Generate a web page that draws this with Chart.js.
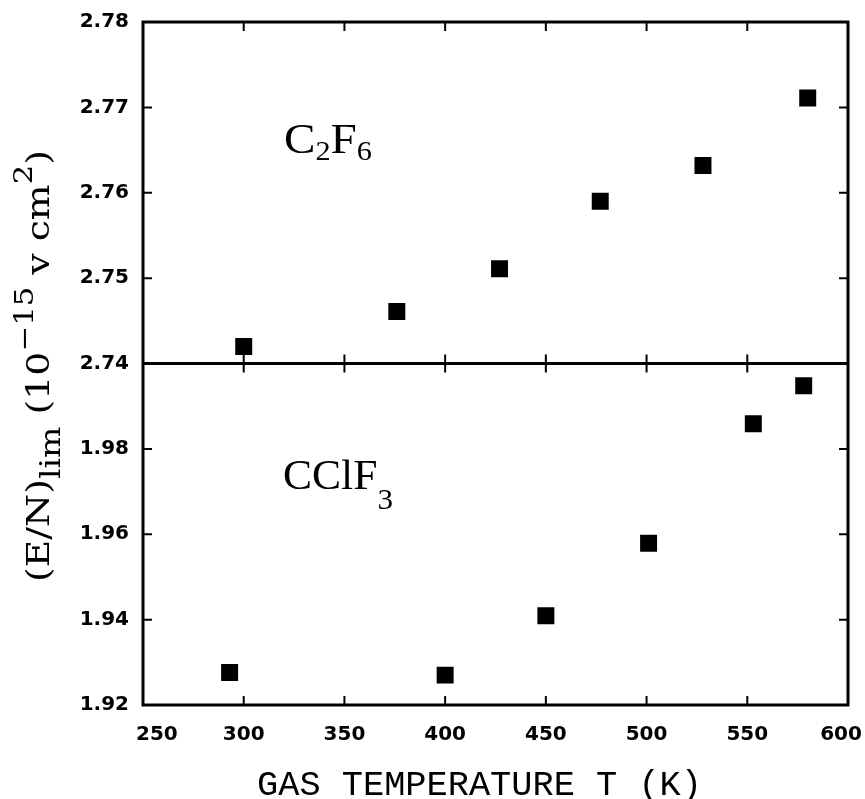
<!DOCTYPE html>
<html>
<head>
<meta charset="utf-8">
<script src="https://cdn.jsdelivr.net/npm/chart.js@4.4.0/dist/chart.umd.min.js"></script>
<style>
  html, body { margin: 0; padding: 0; background: #fff; }
</style>
</head>
<body>
<canvas id="chart" width="865" height="799"></canvas>
<script>
// gas temperature (K) and limiting field (E/N)lim, 10^-15 V cm^2
const c2f6Temp = [300, 376, 427, 477, 528, 580];
const c2f6Field = [2.742, 2.7461, 2.7511, 2.7590, 2.7632, 2.7711];
const cclf3Temp = [293, 400, 450, 501, 553, 578];
const cclf3Field = [1.9276, 1.9270, 1.9409, 1.9579, 1.9859, 1.9948];

const xTicks = [250, 300, 350, 400, 450, 500, 550, 600];
const topTicks = [2.74, 2.75, 2.76, 2.77, 2.78];
const botTicks = [1.92, 1.94, 1.96, 1.98, 2.00];

const tickFont = { family: 'DejaVu Sans', size: 20, weight: 'bold' };

// draws text pieces (sub/superscripts) along +x from the origin
function piecesWidth(ctx, pieces, family) {
  let w = 0;
  pieces.forEach(p => { ctx.font = p.size + 'px "' + family + '"'; w += ctx.measureText(p.t).width; });
  return w;
}
function drawPieces(ctx, pieces, family) {
  let x = 0;
  pieces.forEach(p => {
    ctx.font = p.size + 'px "' + family + '"';
    ctx.fillText(p.t, x, p.dy || 0);
    x += ctx.measureText(p.t).width;
  });
}
// put pieces at (x, y) baseline, squeezed or stretched to a given length
function fitText(ctx, pieces, family, x, y, len, rotate) {
  const w = piecesWidth(ctx, pieces, family);
  ctx.save();
  ctx.translate(x, y);
  if (rotate) ctx.rotate(-Math.PI / 2);
  ctx.scale(len / w, 1);
  drawPieces(ctx, pieces, family);
  ctx.restore();
}

const framePlugin = {
  id: 'frame',
  afterDraw(chart) {
    const ctx = chart.ctx;
    const { x, yTop, yBot } = chart.scales;
    const L = x.left, R = x.right;
    const T = yTop.top, M = yTop.bottom, B = yBot.bottom;
    const tl = 9;

    ctx.save();
    ctx.strokeStyle = '#000';
    ctx.fillStyle = '#000';
    ctx.lineWidth = 3;
    ctx.strokeRect(L, T, R - L, B - T);
    ctx.beginPath();
    ctx.moveTo(L, M); ctx.lineTo(R, M);
    ctx.stroke();

    // inward tick marks
    ctx.lineWidth = 2;
    ctx.beginPath();
    xTicks.slice(1, -1).forEach(v => {
      const px = x.getPixelForValue(v);
      ctx.moveTo(px, T); ctx.lineTo(px, T + tl);
      ctx.moveTo(px, M - tl); ctx.lineTo(px, M + tl);
      ctx.moveTo(px, B); ctx.lineTo(px, B - tl);
    });
    topTicks.slice(1, -1).forEach(v => {
      const py = yTop.getPixelForValue(v);
      ctx.moveTo(L, py); ctx.lineTo(L + tl, py);
      ctx.moveTo(R, py); ctx.lineTo(R - tl, py);
    });
    botTicks.slice(1, -1).forEach(v => {
      const py = yBot.getPixelForValue(v);
      ctx.moveTo(L, py); ctx.lineTo(L + tl, py);
      ctx.moveTo(R, py); ctx.lineTo(R - tl, py);
    });
    ctx.stroke();

    ctx.textBaseline = 'alphabetic';
    ctx.textAlign = 'left';

    // gas names
    fitText(ctx, [
      { t: 'C', size: 42 }, { t: '2', size: 27, dy: 7 },
      { t: 'F', size: 42 }, { t: '6', size: 27, dy: 7 }
    ], 'Liberation Serif', 284, 153, 88, false);
    fitText(ctx, [
      { t: 'CClF', size: 42 }, { t: '3', size: 30, dy: 20 }
    ], 'Liberation Serif', 283, 489, 110, false);

    // y axis title
    fitText(ctx, [
      { t: '(E/N)', size: 32 }, { t: 'lim', size: 28, dy: 11 },
      { t: ' (10', size: 32 }, { t: '\u221215', size: 26, dy: -16 },
      { t: ' v cm', size: 32 }, { t: '2', size: 26, dy: -17 },
      { t: ')', size: 32 }
    ], 'DejaVu Serif', 49, 582, 432, true);

    // x axis title
    fitText(ctx, [{ t: 'GAS TEMPERATURE T (K)', size: 35 }],
      'Liberation Mono', 257, 795, 445, false);
    ctx.restore();
  }
};

const ctx = document.getElementById('chart').getContext('2d');
new Chart(ctx, {
  type: 'scatter',
  data: {
    datasets: [
      {
        label: 'C2F6',
        data: c2f6Temp.map((t, i) => ({ x: t, y: c2f6Field[i] })),
        yAxisID: 'yTop'
      },
      {
        label: 'CClF3',
        data: cclf3Temp.map((t, i) => ({ x: t, y: cclf3Field[i] })),
        yAxisID: 'yBot'
      }
    ]
  },
  options: {
    responsive: false,
    animation: false,
    layout: { padding: { top: 22, right: 17, left: 0, bottom: 0 } },
    elements: {
      point: { pointStyle: 'rect', radius: 12, backgroundColor: '#000', borderColor: '#000', borderWidth: 0 }
    },
    plugins: { legend: { display: false }, tooltip: { enabled: false } },
    scales: {
      x: {
        type: 'linear', min: 250, max: 600,
        grid: { display: false, drawTicks: false },
        border: { display: false },
        afterBuildTicks: s => { s.ticks = xTicks.map(v => ({ value: v })); },
        afterFit: s => { s.height = 94; s.paddingLeft = 0; s.paddingRight = 0; },
        ticks: {
          padding: 18, color: '#000', font: tickFont, maxRotation: 0, autoSkip: false,
          callback: v => v === 250 ? '\u2007\u2007250' : (v === 600 ? '600\u2007' : String(v))
        }
      },
      yTop: {
        type: 'linear', position: 'left', stack: 'panels', stackWeight: 1, weight: 2,
        min: 2.74, max: 2.78,
        grid: { display: false, drawTicks: false },
        border: { display: false },
        afterBuildTicks: s => { s.ticks = topTicks.map(v => ({ value: v })); },
        afterFit: s => { s.width = 143; s.paddingTop = 0; s.paddingBottom = 0; },
        ticks: { padding: 14, color: '#000', font: tickFont, callback: v => v.toFixed(2) }
      },
      yBot: {
        type: 'linear', position: 'left', stack: 'panels', stackWeight: 1, weight: 1,
        min: 1.92, max: 2.00,
        grid: { display: false, drawTicks: false },
        border: { display: false },
        afterBuildTicks: s => { s.ticks = botTicks.map(v => ({ value: v })); },
        afterFit: s => { s.width = 143; s.paddingTop = 0; s.paddingBottom = 0; },
        ticks: { padding: 14, color: '#000', font: tickFont, callback: v => v >= 2 ? '' : v.toFixed(2) }
      }
    }
  },
  plugins: [framePlugin]
});
</script>
</body>
</html>
